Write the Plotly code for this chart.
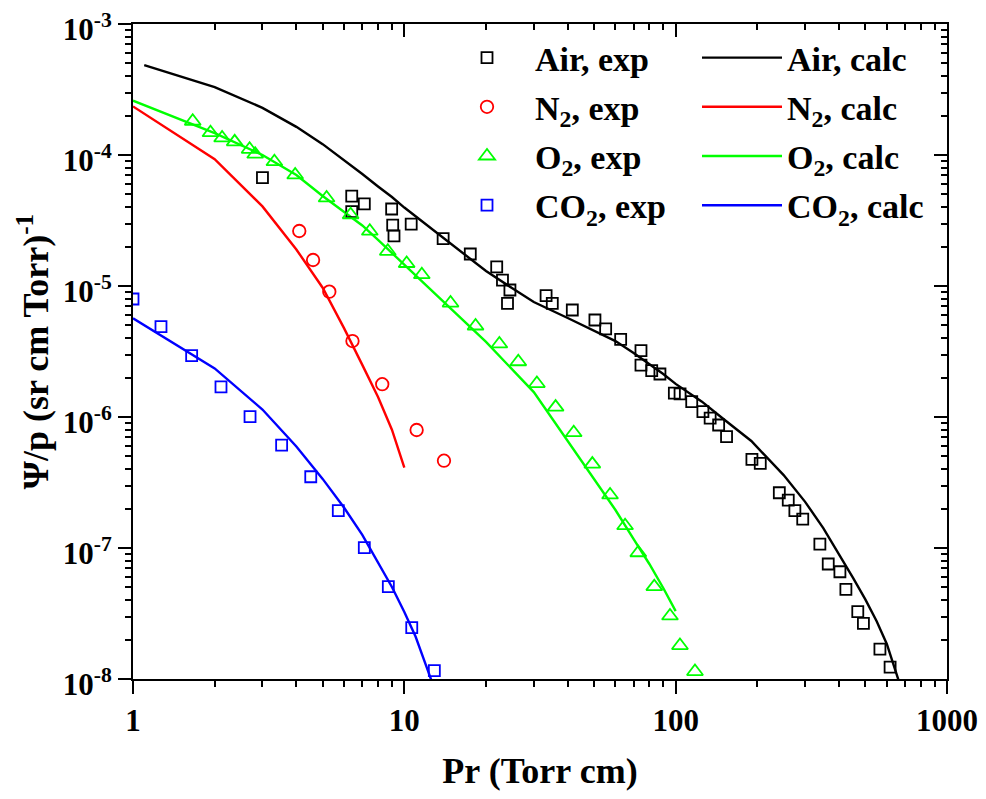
import plotly.graph_objects as go

# ---------------- data ----------------
air_exp_x = [3.0, 6.40, 6.40, 7.12, 8.98, 9.06, 9.16, 10.6, 13.9, 17.5, 21.9, 23.0, 24.5, 24.0,
             33.3, 35.1, 41.6, 50.4, 55.2, 62.7, 74.5, 74.5, 81.6, 87.5, 98.9, 103.8, 114.6,
             126, 134, 144, 154, 191, 205, 241, 260, 275, 294, 340, 365, 403, 424, 469, 492,
             566, 617]
air_exp_y = [6.71e-5, 4.86e-5, 3.69e-5, 4.23e-5, 3.87e-5, 2.92e-5, 2.41e-5, 2.97e-5, 2.30e-5,
             1.755e-5, 1.40e-5, 1.11e-5, 9.32e-6, 7.38e-6, 8.43e-6, 7.38e-6, 6.56e-6, 5.50e-6,
             4.70e-6, 3.92e-6, 3.21e-6, 2.49e-6, 2.26e-6, 2.13e-6, 1.52e-6, 1.50e-6, 1.31e-6,
             1.10e-6, 9.82e-7, 8.69e-7, 7.08e-7, 4.75e-7, 4.43e-7, 2.64e-7, 2.32e-7, 1.93e-7,
             1.66e-7, 1.07e-7, 7.55e-8, 6.59e-8, 4.84e-8, 3.27e-8, 2.66e-8, 1.69e-8, 1.23e-8]

n2_exp_x = [4.10, 4.61, 5.29, 6.44, 8.29, 11.1, 14.0]
n2_exp_y = [2.63e-5, 1.58e-5, 9.05e-6, 3.80e-6, 1.78e-6, 7.96e-7, 4.64e-7]

o2_exp_x = [1.66, 1.93, 2.13, 2.37, 2.69, 2.82, 3.32, 3.96, 5.17, 6.34, 7.46, 8.69, 10.2, 11.6,
            14.8, 18.3, 22.4, 26.3, 30.8, 36.1, 42.1, 49.3, 57.3, 65.1, 72.8, 83.4, 95.3,
            103.7, 117.8]
o2_exp_y = [1.81e-4, 1.48e-4, 1.35e-4, 1.26e-4, 1.105e-4, 1.014e-4, 8.89e-5, 7.04e-5, 4.70e-5,
            3.50e-5, 2.62e-5, 1.84e-5, 1.485e-5, 1.22e-5, 7.41e-6, 4.95e-6, 3.61e-6, 2.64e-6,
            1.80e-6, 1.19e-6, 7.59e-7, 4.37e-7, 2.54e-7, 1.48e-7, 9.2e-8, 5.07e-8, 3.03e-8,
            1.80e-8, 1.14e-8]

co2_exp_x = [1.0, 1.268, 1.645, 2.11, 2.70, 3.53, 4.52, 5.71, 7.12, 8.73, 10.65, 12.9]
co2_exp_y = [7.96e-6, 4.89e-6, 2.94e-6, 1.70e-6, 1.005e-6, 6.11e-7, 3.50e-7, 1.93e-7,
             1.005e-7, 5.07e-8, 2.47e-8, 1.16e-8]

air_calc_x = [1.1, 2, 3, 4, 5, 6, 7, 8, 9, 10, 15, 20, 25, 30, 40, 50, 60, 70, 80, 90, 100,
              125, 150, 190, 250, 300, 350, 400, 450, 500, 550, 600, 650, 700]
air_calc_y = [4.86e-4, 3.30e-4, 2.29e-4, 1.64e-4, 1.21e-4, 9.16e-5, 7.16e-5, 5.75e-5, 4.78e-5,
              3.97e-5, 2.06e-5, 1.30e-5, 9.6e-6, 7.55e-6, 5.70e-6, 4.53e-6, 3.80e-6, 3.08e-6,
              2.54e-6, 2.13e-6, 1.79e-6, 1.31e-6, 9.66e-7, 6.56e-7, 3.6e-7, 2.25e-7, 1.42e-7,
              9.0e-8, 5.93e-8, 4.05e-8, 2.77e-8, 1.85e-8, 1.10e-8, 6.9e-9]

n2_calc_x = [1, 2, 3, 4, 5, 6, 7, 8, 9, 10]
n2_calc_y = [2.35e-4, 9.3e-5, 4.05e-5, 1.9e-5, 9.7e-6, 4.75e-6, 2.5e-6, 1.42e-6, 8.0e-7, 4.1e-7]

o2_calc_x = [1, 2, 3, 4, 5, 6, 7, 8, 9, 10, 20, 30, 40, 50, 60, 70, 80, 90, 100]
o2_calc_y = [2.60e-4, 1.47e-4, 1.0e-4, 7.04e-5, 4.86e-5, 3.67e-5, 2.90e-5, 2.25e-5, 1.79e-5,
             1.46e-5, 3.74e-6, 1.55e-6, 6.56e-7, 3.36e-7, 1.95e-7, 1.17e-7, 7.55e-8, 4.95e-8,
             3.30e-8]

co2_calc_x = [1, 2, 3, 4, 5, 6, 7, 8, 9, 10, 11, 12, 13]
co2_calc_y = [5.67e-6, 2.35e-6, 1.14e-6, 5.95e-7, 3.37e-7, 2.03e-7, 1.26e-7, 7.8e-8, 5.04e-8,
              3.25e-8, 2.11e-8, 1.28e-8, 8.1e-9]

x_tickvals = [1, 10, 100, 1000]
x_ticktext = ["1", "10", "100", "1000"]
y_tickvals = [1e-8, 1e-7, 1e-6, 1e-5, 1e-4, 1e-3]
y_ticktext = ["10<sup>-8</sup>", "10<sup>-7</sup>", "10<sup>-6</sup>",
              "10<sup>-5</sup>", "10<sup>-4</sup>", "10<sup>-3</sup>"]

names_exp = ["Air, exp", "N<sub>2</sub>, exp", "O<sub>2</sub>, exp", "CO<sub>2</sub>, exp"]
names_calc = ["Air, calc", "N<sub>2</sub>, calc", "O<sub>2</sub>, calc", "CO<sub>2</sub>, calc"]
colors = ["#000000", "#FF0000", "#00FF00", "#0000FF"]
symbols = ["square-open", "circle-open", "triangle-up-open", "square-open"]
msizes = [11, 12.5, 14, 11]

# minor tick positions (2..9 in each decade)
x_minor = [m * 10 ** d for d in range(0, 3) for m in range(2, 10)]
y_minor = [m * 10.0 ** d for d in range(-8, -3) for m in range(2, 10)]

FONT = "Liberation Serif"

fig = go.Figure()

calc_sets = [(air_calc_x, air_calc_y), (n2_calc_x, n2_calc_y),
             (o2_calc_x, o2_calc_y), (co2_calc_x, co2_calc_y)]
exp_sets = [(air_exp_x, air_exp_y), (n2_exp_x, n2_exp_y),
            (o2_exp_x, o2_exp_y), (co2_exp_x, co2_exp_y)]

for i, (cx, cy) in enumerate(calc_sets):
    fig.add_trace(go.Scatter(x=cx, y=cy, mode="lines", name=names_calc[i],
                             line=dict(color=colors[i], width=2.4),
                             legend="legend2", legendgroup="c%d" % i))
for i, (ex, ey) in enumerate(exp_sets):
    fig.add_trace(go.Scatter(x=ex, y=ey, mode="markers", name=names_exp[i],
                             marker=dict(symbol=symbols[i], size=msizes[i], color=colors[i],
                                         line=dict(color=colors[i], width=1.8)),
                             legend="legend", legendgroup="e%d" % i))

# dummy trace to attach mirror axes
fig.add_trace(go.Scatter(x=[None], y=[None], xaxis="x2", yaxis="y2", showlegend=False,
                         hoverinfo="skip"))

axis_common = dict(type="log", showline=True, linecolor="black", linewidth=2,
                   showgrid=False, zeroline=False, tickcolor="black", tickwidth=2,
                   automargin=False)

def minor_ticks(vals, direction):
    return dict(tickmode="array", tickvals=vals, ticks=direction, ticklen=6, tickwidth=1.6,
                tickcolor="black", showgrid=False)

fig.update_layout(
    width=970, height=783,
    margin=dict(l=125, r=31, t=16, b=112),
    paper_bgcolor="white", plot_bgcolor="white",
    font=dict(family=FONT, color="black"),
    xaxis=dict(**axis_common, range=[0, 3], ticks="outside", ticklen=13,
               tickmode="array", tickvals=x_tickvals, ticktext=x_ticktext,
               tickfont=dict(family=FONT, size=31, weight="bold"),
               ticklabeloverflow="allow",
               minor=minor_ticks(x_minor, "outside"),
               title=dict(text="Pr (Torr cm)", font=dict(family=FONT, size=36, weight="bold"),
                          standoff=36)),
    yaxis=dict(**axis_common, range=[-8, -3], ticks="outside", ticklen=13,
               tickmode="array", tickvals=y_tickvals, ticktext=y_ticktext,
               tickfont=dict(family=FONT, size=31, weight="bold"),
               ticklabeloverflow="allow", ticklabelshift=5,
               minor=minor_ticks(y_minor, "outside"),
               title=dict(text="Ψ/p (sr cm Torr)<sup>-1</sup>",
                          font=dict(family=FONT, size=36, weight="bold"), standoff=3)),
    xaxis2=dict(**axis_common, range=[0, 3], overlaying="x", side="top", anchor="y",
                ticks="inside", ticklen=13, tickmode="array", tickvals=x_tickvals,
                showticklabels=False, minor=minor_ticks(x_minor, "inside")),
    yaxis2=dict(**axis_common, range=[-8, -3], overlaying="y", side="right", anchor="x",
                ticks="inside", ticklen=13, tickmode="array", tickvals=y_tickvals,
                showticklabels=False, minor=minor_ticks(y_minor, "inside")),
    legend=dict(x=(439 - 133) / 814, y=1 - (29 - 24) / 655, xanchor="left", yanchor="top",
                bgcolor="rgba(0,0,0,0)", borderwidth=0, tracegroupgap=2,
                traceorder="grouped", itemwidth=86,
                font=dict(family=FONT, size=34, weight="bold")),
    legend2=dict(x=(697 - 133) / 814, y=1 - (29 - 24) / 655, xanchor="left", yanchor="top",
                 bgcolor="rgba(0,0,0,0)", borderwidth=0, tracegroupgap=2,
                 traceorder="grouped", itemwidth=80,
                 font=dict(family=FONT, size=34, weight="bold")),
    showlegend=True,
)

fig.write_html("out.html")
